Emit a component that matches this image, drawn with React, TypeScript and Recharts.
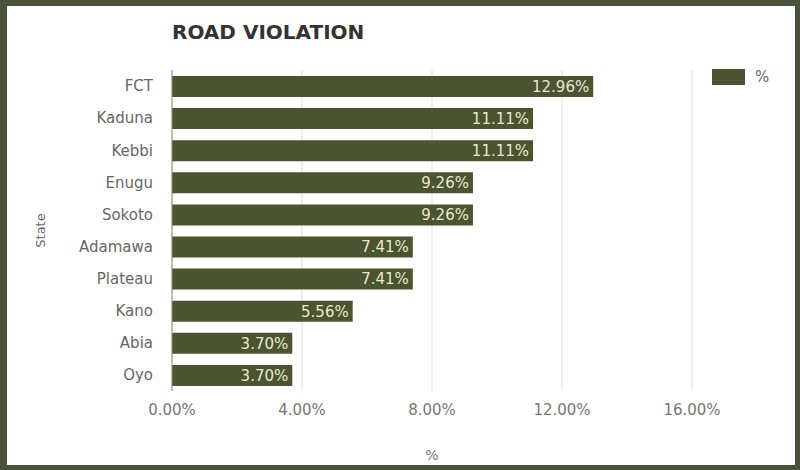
import React from "react";
import {
  BarChart,
  Bar,
  XAxis,
  YAxis,
  CartesianGrid,
  Legend,
  LabelList,
} from "recharts";

const states = ["FCT", "Kaduna", "Kebbi", "Enugu", "Sokoto", "Adamawa", "Plateau", "Kano", "Abia", "Oyo"];
const percents = [12.96, 11.11, 11.11, 9.26, 9.26, 7.41, 7.41, 5.56, 3.7, 3.7];
const xTicks = [0, 4, 8, 12, 16];

const data = states.map((state, i) => ({ state, pct: percents[i] }));

const FONT = "'DejaVu Sans', sans-serif";
const BAR = "#4b5331";
const fmt = (v: number) => `${Number(v).toFixed(2)}%`;

const renderLegend = () => (
  <div style={{ display: "flex", alignItems: "center", fontFamily: FONT, fontSize: 15, color: "#666" }}>
    <span style={{ display: "inline-block", width: 33, height: 16, background: BAR, marginRight: 10 }} />
    <span>%</span>
  </div>
);

export default function App() {
  return (
    <div style={{ position: "fixed", left: 0, top: 0, width: 800, height: 470, background: "#fff" }}>
      <div
        style={{
          position: "absolute",
          left: 172,
          top: 22,
          fontFamily: FONT,
          fontWeight: "bold",
          fontSize: 20,
          lineHeight: "20px",
          color: "#333",
        }}
      >
        ROAD VIOLATION
      </div>
      <BarChart
        layout="vertical"
        width={800}
        height={470}
        data={data}
        margin={{ top: 70, right: 108, bottom: 5, left: 35 }}
        style={{ position: "absolute", left: 0, top: 0 }}
      >
        <CartesianGrid horizontal={false} stroke="#dddddd" />
        <XAxis
          type="number"
          domain={[0, 16]}
          ticks={xTicks}
          tickFormatter={fmt}
          axisLine={false}
          tickLine={false}
          tickSize={0}
          tickMargin={13}
          height={74}
          tick={{ fontFamily: FONT, fontSize: 15, fill: "#777" }}
          label={{ value: "%", position: "insideBottom", offset: 5, fontFamily: FONT, fontSize: 14, fill: "#777" }}
        />
        <YAxis
          type="category"
          dataKey="state"
          width={137}
          axisLine={{ stroke: "#888" }}
          tickLine={false}
          tickSize={0}
          tickMargin={19}
          tick={{ fontFamily: FONT, fontSize: 15, fill: "#666" }}
          label={{
            value: "State",
            angle: -90,
            position: "insideLeft",
            offset: 5,
            fontFamily: FONT,
            fontSize: 13,
            fill: "#666",
            style: { textAnchor: "middle" },
          }}
        />
        <Legend
          layout="horizontal"
          align="center"
          verticalAlign="middle"
          content={renderLegend}
          wrapperStyle={{ left: 712, top: 68, width: 70, height: 18 }}
        />
        <Bar dataKey="pct" name="%" fill={BAR} barSize={21} isAnimationActive={false}>
          <LabelList
            dataKey="pct"
            position="insideRight"
            offset={4}
            formatter={(v: any) => fmt(v)}
            style={{ fontFamily: FONT, fontSize: 15, fill: "#e4ead0" }}
          />
        </Bar>
      </BarChart>
      <div
        style={{
          position: "absolute",
          left: 0,
          top: 0,
          width: 800,
          height: 470,
          boxSizing: "border-box",
          borderStyle: "solid",
          borderColor: "#485339",
          borderWidth: "6px 5px 5px 7px",
          pointerEvents: "none",
        }}
      />
    </div>
  );
}
